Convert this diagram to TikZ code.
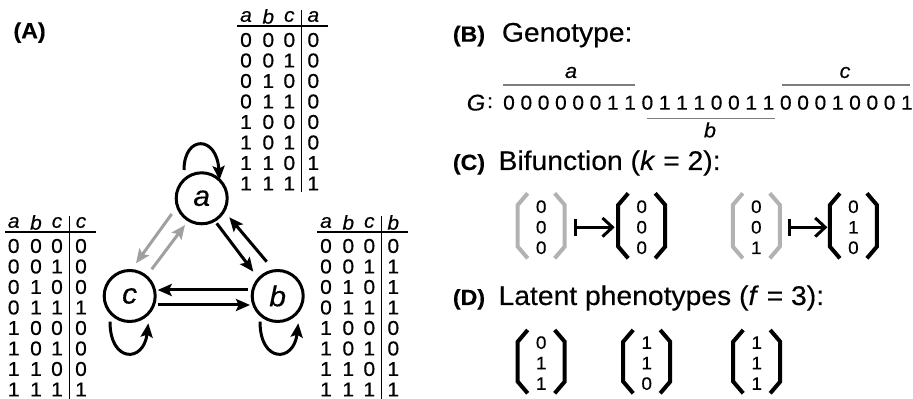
\documentclass[tikz,border=0pt]{standalone}
\usepackage{fontspec}
\setmainfont{Liberation Sans}[FakeStretch=1.05,FakeBold=0.35]
\usetikzlibrary{arrows.meta,calc}

\definecolor{garrow}{RGB}{160,160,160}
\definecolor{gbrack}{RGB}{178,178,178}
\definecolor{gline}{RGB}{125,125,125}

\tikzset{
  dig/.style={inner sep=0pt, font=\fontsize{15}{18}\selectfont},
  hd/.style={inner sep=0pt, font=\fontsize{15}{18}\selectfont\itshape},
  tline/.style={line width=1.1pt},
  state/.style={circle, draw, line width=2.25pt, minimum size=38.25pt, inner sep=0pt,
    font=\fontsize{21.5}{24}\selectfont\itshape},
  edge/.style={line width=2.25pt, -{Stealth[length=10.5pt,width=9pt,inset=2pt]}},
  gedge/.style={edge, draw=garrow},
  panel/.style={inner sep=0pt, anchor=base west, font=\fontsize{16.5}{20}\selectfont\bfseries},
  heading/.style={inner sep=0pt, anchor=base west, font=\fontsize{20.2}{24}\selectfont},
  gdig/.style={inner sep=0pt, font=\fontsize{15}{18}\selectfont},
  glab/.style={inner sep=0pt, font=\fontsize{15.5}{18}\selectfont\itshape},
  gbar/.style={line width=1.1pt, draw=gline},
  vdig/.style={inner sep=0pt, font=\fontsize{13.5}{16}\selectfont},
  brk/.style={line width=3pt, line join=miter},
  mapsto/.style={line width=2.25pt, {Bar[width=13pt]}-{Straight Barb[length=7.5pt,width=14pt]}},
}

% truth table: #1 name, #2 left x, #3 first-row Y, #4 output letter, #5 rows, #6 bottom of vertical rule
\newcommand\truthtab[6]{%
  \node[hd] (#1-ha) at (#2+8.7,#3+23.5) {a};
  \node[hd] (#1-hb) at (#2+31,#3+23.5) {b};
  \node[hd] (#1-hc) at (#2+52,#3+23.5) {c};
  \node[hd] (#1-ho) at (#2+76,#3+23.5) {#4};
  \draw[tline] (#2,#3+14) -- (#2+91,#3+14);
  \draw[tline] (#2+64.4,#3+30) -- (#2+64.4,#6);
  \foreach \p/\q/\s/\o [count=\i from 0] in {#5} {
    \node[dig] (#1-\i-1) at (#2+8.7,#3-20.5*\i) {\p};
    \node[dig] (#1-\i-2) at (#2+31,#3-20.5*\i) {\q};
    \node[dig] (#1-\i-3) at (#2+52,#3-20.5*\i) {\s};
    \node[dig] (#1-\i-4) at (#2+76,#3-20.5*\i) {\o};
  }%
}

% column vector: #1 name, #2 centre x, #3 top Y, #4 bottom Y, #5 colour, #6-#8 digits
\newcommand\vecbox[8]{%
  \draw[brk, draw=#5] (#2-13.5,#3) -- (#2-23.5,#3-11.7) -- (#2-23.5,#4+11.7) -- (#2-13.5,#4);
  \draw[brk, draw=#5] (#2+13.5,#3) -- (#2+23.5,#3-11.7) -- (#2+23.5,#4+11.7) -- (#2+13.5,#4);
  \node[vdig] (#1-1) at (#2,{(#3+#4)/2-1.5+20.5}) {#6};
  \node[vdig] (#1-2) at (#2,{(#3+#4)/2-1.5}) {#7};
  \node[vdig] (#1-3) at (#2,{(#3+#4)/2-1.5-20.5}) {#8};
}

\begin{document}
\begin{tikzpicture}[x=0.75pt,y=0.75pt]
\useasboundingbox (0,0) rectangle (913,399);

% ---------- (A) ----------
\node[panel] (pA) at (13.3,360.7) {(A)};

\truthtab{ta}{237.3}{359}{a}{0/0/0/0,0/0/1/0,0/1/0/0,0/1/1/0,1/0/0/0,1/0/1/0,1/1/0/1,1/1/1/1}{207}
\truthtab{tc}{5}{153}{c}{0/0/0/0,0/0/1/0,0/1/0/0,0/1/1/1,1/0/0/0,1/0/1/0,1/1/0/0,1/1/1/1}{0}
\truthtab{tb}{317.3}{153}{b}{0/0/0/0,0/0/1/1,0/1/0/1,0/1/1/1,1/0/0/0,1/0/1/0,1/1/0/1,1/1/1/1}{0}

\node[state] (a) at (201.7,200.7) {a};
\node[state] (c) at (129.7,103) {c};
\node[state] (b) at (277.7,103) {b};

\draw[edge] ($(a)+(15,-25)$) -- ($(b)+(-24.4,24.3)$);
\draw[edge] ($(b)+(-11,34.3)$) -- ($(a)+(27.6,-19)$);
\draw[edge] ($(c)+(28,-9)$) -- ($(b)+(-27.7,-9)$);
\draw[edge] ($(b)+(-30,6)$) -- ($(c)+(28,6)$);
\draw[gedge] ($(a)+(-30,-15.7)$) -- ($(c)+(6.3,32.7)$);
\draw[gedge] ($(c)+(22,26.7)$) -- ($(a)+(-16.7,-26.7)$);

\draw[edge] ($(a)+(-17.7,28.3)$) .. controls ($(a)+(-17.7,63.3)$) and ($(a)+(15,63.3)$) .. ($(a)+(17.8,18.3)$);
\draw[edge] ($(c)+(-19.7,-25.7)$) .. controls ($(c)+(-19.7,-67)$) and ($(c)+(14,-67)$) .. ($(c)+(18.6,-27.3)$);
\draw[edge] ($(b)+(-17.7,-25.7)$) .. controls ($(b)+(-17.7,-67)$) and ($(b)+(16,-67)$) .. ($(b)+(20.6,-27.3)$);

% ---------- (B) ----------
\node[panel] (pB) at (452.7,357.3) {(B)};
\node[heading] (hB) at (501.7,357.3) {Genotype:};
\node[inner sep=0pt, font=\fontsize{17}{20}\selectfont\itshape] (gG) at (476,296.3) {G};
\node[gdig] (gcolon) at (490,296.3) {:};
\foreach \d [count=\i from 0] in {0,0,0,0,0,0,1,1,0,1,1,1,0,0,1,1,0,0,0,1,0,0,0,1} {
  \node[gdig] (g\i) at (509+17.3*\i,296.3) {\d};
}
\draw[gbar] (503.3,314) -- (635,314);
\node[glab] (la) at (571,326.5) {a};
\draw[gbar] (646.7,280.7) -- (775,280.7);
\node[glab] (lb) at (710,269) {b};
\draw[gbar] (781.7,314) -- (910,314);
\node[glab] (lc) at (845,326.5) {c};

% ---------- (C) ----------
\node[panel] (pC) at (452.7,229) {(C)};
\node[heading] (hC) at (498.3,229) {Bifunction (\textit{k} = 2):};
\vecbox{cg1}{541.2}{205.7}{140.7}{gbrack}{0}{0}{0}
\vecbox{cb1}{641.7}{205.7}{140.7}{black}{0}{0}{0}
\vecbox{cg2}{756.3}{205.7}{140.7}{gbrack}{0}{0}{1}
\vecbox{cb2}{853.4}{205.7}{140.7}{black}{0}{1}{0}
\draw[mapsto] ($(cg1-2)+(32.5,0)$) -- ($(cb1-2)+(-27,0)$);
\draw[mapsto] ($(cg2-2)+(31.5,0)$) -- ($(cb2-2)+(-26,0)$);

% ---------- (D) ----------
\node[panel] (pD) at (452.7,94) {(D)};
\node[heading] (hD) at (498.3,94) {Latent phenotypes (\textit{f} = 3):};
\vecbox{d1}{541.2}{69}{5.7}{black}{0}{1}{1}
\vecbox{d2}{646.7}{69}{5.7}{black}{1}{1}{0}
\vecbox{d3}{756.7}{69}{5.7}{black}{1}{1}{1}
\end{tikzpicture}
\end{document}
